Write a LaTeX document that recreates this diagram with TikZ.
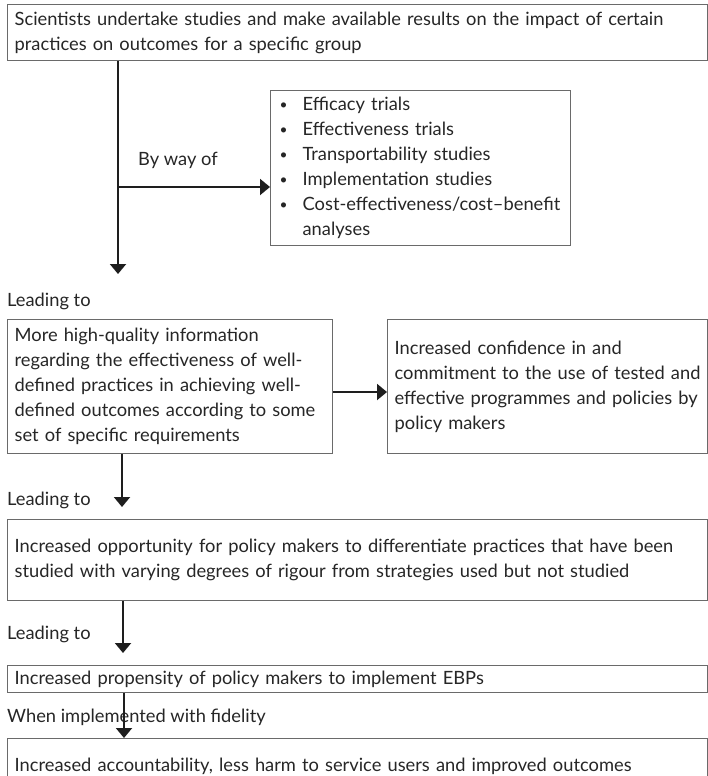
\documentclass[tikz,border=0pt]{standalone}
\usepackage{fontspec}
\setmainfont{Lato}
\usetikzlibrary{arrows.meta}
\definecolor{boxline}{HTML}{6A6A6A}
\definecolor{txt}{HTML}{262626}
\definecolor{arrowc}{HTML}{1E1E1E}
\newcommand{\mainfs}{\fontsize{18.3}{25}\selectfont}
\newcommand{\bul}{\makebox[23pt][l]{\raisebox{1pt}{\scalebox{0.75}{\textbullet}}}}
\tikzset{
  box/.style={draw=boxline, line width=1.3pt, anchor=north west, inner xsep=7pt,
    inner ysep=0pt, align=left, text=txt, font=\mainfs},
  lbl/.style={anchor=base west, inner sep=0pt, text=txt, font=\mainfs},
  arr/.style={line width=2pt, draw=arrowc, -{Triangle[length=10pt,width=16pt]}}
}
\begin{document}
\begin{tikzpicture}[x=1pt,y=-1pt]
\useasboundingbox (0,0) rectangle (708,776);
\clip (0,0) rectangle (708,776);
\fill[white] (0,0) rectangle (708,776);

% boxes
\node[box, text width=686pt, minimum height=56pt] (b1) at (7,4)
  {\mbox{Scientists undertake studies and make available results on the impact of certain}\\\mbox{practices on outcomes for a specific group}};
\node[box, inner xsep=9pt, text width=282pt, minimum height=155pt] (b2) at (270,90)
  {\mbox{\bul Efficacy trials}\\\mbox{\bul Effectiveness trials}\\\mbox{\bul Transportability studies}\\\mbox{\bul Implementation studies}\\\mbox{\bul Cost-effectiveness/cost--benefit}\\\mbox{\hspace*{23pt}analyses}};
\node[box, text width=311pt, minimum height=134pt] (b3) at (7,319)
  {\mbox{More high-quality information}\\\mbox{regarding the effectiveness of well-}\\\mbox{defined practices in achieving well-}\\\mbox{defined outcomes according to some}\\\mbox{set of specific requirements}};
\node[box, text width=306pt, minimum height=134pt] (b4) at (387,319)
  {\mbox{Increased confidence in and}\\\mbox{commitment to the use of tested and}\\\mbox{effective programmes and policies by}\\\mbox{policy makers}};
\node[box, text width=686pt, minimum height=81pt] (b5) at (7,519)
  {\mbox{Increased opportunity for policy makers to differentiate practices that have been}\\\mbox{studied with varying degrees of rigour from strategies used but not studied}};
\node[box, text width=686pt, minimum height=27pt] (b6) at (7,665)
  {\mbox{Increased propensity of policy makers to implement EBPs}};
\node[box, text width=686pt, minimum height=55pt] (b7) at (7,738)
  {\mbox{Increased accountability, less harm to service users and improved outcomes}};

% labels
\node[lbl] (l0) at (138,165) {By way of};
\node[lbl] (l1) at (7,306) {Leading to};
\node[lbl] (l2) at (7,505) {Leading to};
\node[lbl] (l3) at (7,639) {Leading to};
\node[lbl] (l4) at (7,722) {When implemented with fidelity};

% coordinates
\coordinate (t1) at (118,274);
\coordinate (j1) at (118,187);
\coordinate (j2) at (332,392);
\coordinate (t3) at (122,507);
\coordinate (t4) at (123,653);
\coordinate (x5) at (124,700);

% connectors
\draw[arr] (t1 |- b1.south) -- (t1);
\draw[arr] (j1) -- (j1 -| b2.west);
\draw[arr] (j2 -| b3.east) -- (j2 -| b4.west);
\draw[arr] (t3 |- b3.south) -- (t3);
\draw[arr] (t4 |- b5.south) -- (t4);
\draw[arr] (x5 |- b6.south) -- (x5 |- b7.north);
\end{tikzpicture}
\end{document}
